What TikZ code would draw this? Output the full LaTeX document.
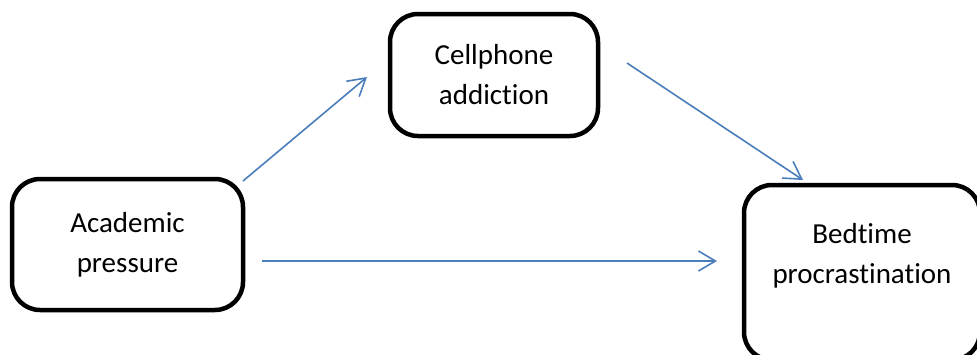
\documentclass[tikz,border=0pt]{standalone}
\usepackage{fontspec}
\setmainfont{Carlito}[Ligatures=NoCommon]
\usepackage{tikz}
\usetikzlibrary{arrows.meta,positioning}
\definecolor{lineblue}{HTML}{4A7EBB}

\begin{document}
\begin{tikzpicture}[x=1pt, y=-1pt]
    \tikzset{box/.style = {shape=rectangle, draw, line width=4.5pt, rounded corners=28pt, align=center, inner sep=0pt, font=\fontsize{29}{40}\selectfont}}
    \tikzset{edge/.style = {-{Straight Barb[length=17pt, width=20pt]}, draw=lineblue, line width=1.6pt}}

    \useasboundingbox (0, 0) rectangle (977, 354);

    \node[box, minimum width=231pt, minimum height=131pt] (A) at (127.5, 244.5) {Academic\\pressure};
    \node[box, minimum width=208pt, minimum height=122pt] (C) at (494, 75) {Cellphone\\addiction};
    \node[box, minimum width=236pt, minimum height=175pt, text depth=38pt] (B) at (862, 272.5) {Bedtime\\procrastination};

    \coordinate (ac1) at (243, 181);
    \coordinate (ac2) at (367, 77);
    \coordinate (cb1) at (627, 63);
    \coordinate (cb2) at (803, 180);
    \coordinate (ab1) at (262, 261);
    \coordinate (ab2) at (717, 261);

    \draw[edge] (ac1) -- (ac2);
    \draw[edge] (cb1) -- (cb2);
    \draw[edge] (ab1) -- (ab2);
\end{tikzpicture}
\end{document}
